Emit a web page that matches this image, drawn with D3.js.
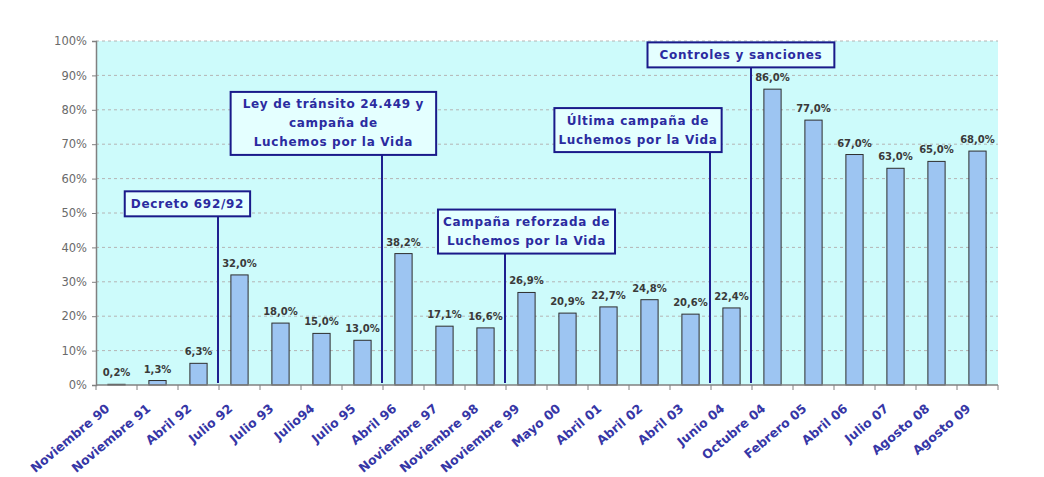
<!DOCTYPE html>
<html>
<head>
<meta charset="utf-8">
<script src="https://cdn.jsdelivr.net/npm/d3@7"></script>
<style>
  body { margin: 0; background: #fff; }
  svg { display: block; }
</style>
</head>
<body>
<svg id="chart" width="1044" height="477"></svg>
<script>
// data
const categories = ['Noviembre 90', 'Noviembre 91', 'Abril 92', 'Julio 92', 'Julio 93', 'Julio94',
  'Julio 95', 'Abril 96', 'Noviembre 97', 'Noviembre 98', 'Noviembre 99', 'Mayo 00', 'Abril 01',
  'Abril 02', 'Abril 03', 'Junio 04', 'Octubre 04', 'Febrero 05', 'Abril 06', 'Julio 07',
  'Agosto 08', 'Agosto 09'];
const values = [0.2, 1.3, 6.3, 32.0, 18.0, 15.0, 13.0, 38.2, 17.1, 16.6, 26.9, 20.9, 22.7,
  24.8, 20.6, 22.4, 86.0, 77.0, 67.0, 63.0, 65.0, 68.0];
const yTicks = [0, 10, 20, 30, 40, 50, 60, 70, 80, 90, 100];

// callouts: the line sits just before the category "before"
const annotationTexts = [
  ['Decreto 692/92'],
  ['Ley de tránsito 24.449 y', 'campaña de', 'Luchemos por la Vida'],
  ['Campaña reforzada de', 'Luchemos por la Vida'],
  ['Última campaña de', 'Luchemos por la Vida'],
  ['Controles y sanciones']
];
const annotationBefore = ['Julio 92', 'Abril 96', 'Noviembre 99', 'Junio 04', 'Octubre 04'];
const annotationTop = [56.3, 85.2, 51, 80.5, 99.6];     // box top, in %
const annotationCenter = [2.23, 5.79, 10.5, 13.22, 15.73]; // box centre, in category slots
const annotationPad = [6, 12, 5, 4, 12];

const svg = d3.select('#chart');
const margin = { top: 41, right: 46, bottom: 92, left: 96 };
const width = 1044 - margin.left - margin.right,
  height = 477 - margin.top - margin.bottom;

const g = svg.append('g').attr('transform', `translate(${margin.left},${margin.top})`);

const x = d3.scaleBand().domain(categories).range([0, width]).paddingInner(0.58).paddingOuter(0.29);
const slot = d3.scaleLinear().domain([0, categories.length]).range([0, width]);
const y = d3.scaleLinear().domain([0, 100]).range([height, 0]);

// plot background
g.append('rect')
  .attr('width', width).attr('height', height)
  .attr('fill', '#cdfbfb');

// dashed gridlines
g.append('g').selectAll('line').data(yTicks.filter(d => d > 0)).enter().append('line')
  .attr('x1', 0).attr('x2', width)
  .attr('y1', d => y(d)).attr('y2', d => y(d))
  .attr('stroke', '#b4b4b4').attr('stroke-dasharray', '3,3');

// y axis
const yAxis = g.append('g')
  .call(d3.axisLeft(y).tickValues(yTicks).tickFormat(d => d + '%').tickSize(4).tickPadding(5));
yAxis.select('.domain').attr('stroke', '#808080').attr('stroke-width', 1.5);
yAxis.selectAll('.tick line').attr('stroke', '#808080');
yAxis.selectAll('.tick text')
  .attr('fill', '#6a6a6a')
  .style('font-family', '"DejaVu Sans", Verdana, sans-serif')
  .style('font-size', '11.5px');

// bars
g.append('g').selectAll('rect').data(values).enter().append('rect')
  .attr('x', (d, i) => x(categories[i]))
  .attr('y', d => y(d))
  .attr('width', x.bandwidth())
  .attr('height', d => height - y(d))
  .attr('fill', '#9dc5f2')
  .attr('stroke', '#2e2e2e')
  .attr('stroke-width', 1);

// value labels
g.append('g').selectAll('text').data(values).enter().append('text')
  .attr('x', (d, i) => x(categories[i]) + x.bandwidth() / 2)
  .attr('y', d => y(d) - 8)
  .attr('text-anchor', 'middle')
  .attr('fill', '#3a3a3a')
  .style('font-family', '"DejaVu Sans", Verdana, sans-serif')
  .style('font-weight', 'bold')
  .style('font-size', '10px')
  .text(d => d.toFixed(1).replace('.', ',') + '%');

// x axis: baseline and boundary ticks
g.append('line')
  .attr('x1', 0).attr('x2', width).attr('y1', height).attr('y2', height)
  .attr('stroke', '#808080').attr('stroke-width', 1.5);
g.append('g').selectAll('line').data(d3.range(categories.length + 1)).enter().append('line')
  .attr('x1', d => slot(d)).attr('x2', d => slot(d))
  .attr('y1', height).attr('y2', height + 5)
  .attr('stroke', '#808080');

// rotated category labels
g.append('g').selectAll('text').data(categories).enter().append('text')
  .attr('transform', d => `translate(${x(d) + x.bandwidth() / 2 - 6},${height + 25}) rotate(-40)`)
  .attr('text-anchor', 'end')
  .attr('fill', '#3636a6')
  .style('font-family', '"DejaVu Sans", Verdana, sans-serif')
  .style('font-weight', 'bold')
  .style('font-size', '12.5px')
  .text(d => d);

// callouts
const lineH = 19;
annotationTexts.forEach((lines, k) => {
  const lx = slot(categories.indexOf(annotationBefore[k])) - 1;
  const top = y(annotationTop[k]);
  const cx = slot(annotationCenter[k]);
  const boxH = lines.length * lineH + 6;

  g.append('line')
    .attr('x1', lx).attr('x2', lx)
    .attr('y1', top + boxH).attr('y2', height - 2)
    .attr('stroke', '#1f1f8f').attr('stroke-width', 2);

  const box = g.append('rect')
    .attr('y', top).attr('height', boxH)
    .attr('fill', '#e4ffff')
    .attr('stroke', '#1a1a8a').attr('stroke-width', 2);

  const txt = g.append('text')
    .attr('text-anchor', 'middle')
    .attr('fill', '#2b2ba0')
    .style('font-family', '"DejaVu Sans", Verdana, sans-serif')
    .style('font-weight', 'bold')
    .style('font-size', '12px')
    .style('letter-spacing', '0.7px');
  lines.forEach((t, j) => {
    txt.append('tspan')
      .attr('x', cx)
      .attr('y', top + 3 + lineH * j + lineH / 2 + 4)
      .text(t);
  });
  const w = d3.max(txt.selectAll('tspan').nodes(), n => n.getComputedTextLength()) + 2 * annotationPad[k];
  box.attr('x', cx - w / 2).attr('width', w);
});
</script>
</body>
</html>
